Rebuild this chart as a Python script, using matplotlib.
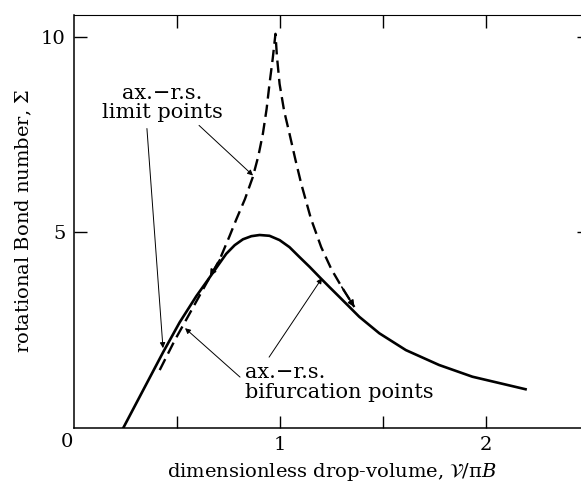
import numpy as np
import matplotlib
matplotlib.use("Agg")
import matplotlib.pyplot as plt

plt.rcParams['font.family'] = ['DejaVu Serif']
plt.rcParams['mathtext.fontset'] = 'dejavuserif'

# bifurcation curve (solid): drop volume vs rotational Bond number
bif_vol = [0.239, 0.336, 0.432, 0.513, 0.594, 0.659, 0.700, 0.739, 0.780, 0.820,
           0.861, 0.901, 0.949, 0.998, 1.046, 1.094, 1.143, 1.191, 1.240, 1.288,
           1.385, 1.482, 1.611, 1.772, 1.934, 2.192]
bif_sigma = [0.0, 0.97, 1.93, 2.70, 3.37, 3.85, 4.16, 4.45, 4.67, 4.82,
             4.90, 4.93, 4.91, 4.80, 4.62, 4.37, 4.12, 3.86, 3.60, 3.35,
             2.84, 2.42, 1.99, 1.61, 1.31, 0.99]

# limit-point curve (dashed), cusp near V/piB = 1
lim_vol = [0.416, 0.489, 0.562, 0.642, 0.707, 0.755, 0.788, 0.830, 0.868, 0.895,
           0.917, 0.935, 0.949, 0.965, 0.978, 0.985, 0.998, 1.020, 1.046, 1.075,
           1.103, 1.150, 1.200, 1.250, 1.300, 1.361]
lim_sigma = [1.48, 2.24, 2.93, 3.69, 4.30, 4.90, 5.33, 5.85, 6.41, 6.95,
             7.52, 8.15, 8.79, 9.45, 10.07, 9.50, 8.79, 8.10, 7.52, 6.85,
             6.24, 5.35, 4.62, 4.05, 3.60, 3.09]

fig = plt.figure(figsize=(5.81, 4.83), dpi=100)
ax = fig.add_axes([74/581, 55/483, 515/581, 413/483])

ax.plot(bif_vol, bif_sigma, color='black', lw=1.9, solid_joinstyle='round')
ax.plot(lim_vol, lim_sigma, color='black', lw=1.7, dashes=(5.2, 2.6))

# little heads where the dashed curve runs onto the solid one
head = dict(arrowstyle='-|>', color='black', lw=1.2, mutation_scale=9, shrinkA=0, shrinkB=0)
ax.annotate('', xy=(0.660, 3.88), xytext=(0.707, 4.30), arrowprops=head)
ax.annotate('', xy=(1.361, 3.09), xytext=(1.300, 3.60), arrowprops=head)

thin = dict(arrowstyle='-|>', color='black', lw=0.7, mutation_scale=8, shrinkA=0, shrinkB=0)
ax.annotate('', xy=(0.869, 6.45), xytext=(0.607, 7.73), arrowprops=thin)
ax.annotate('', xy=(0.432, 2.04), xytext=(0.354, 7.65), arrowprops=thin)
ax.text(0.43, 8.3, 'ax.\u2212r.s.\nlimit points', ha='center', va='center',
        fontsize=15, linespacing=1.05)

ax.annotate('', xy=(0.539, 2.55), xytext=(0.806, 1.30), arrowprops=thin)
ax.annotate('', xy=(1.204, 3.83), xytext=(0.947, 1.81), arrowprops=thin)
ax.text(0.83, 1.17, 'ax.\u2212r.s.\nbifurcation points', ha='left', va='center',
        fontsize=15, linespacing=1.05)

ax.set_xlim(0, 2.5)
ax.set_ylim(0, 10.55)
ax.set_xticks([0.5, 1, 1.5, 2])
ax.set_xticklabels(['', '1', '', '2'])
ax.set_yticks([5, 10])
ax.set_yticklabels(['5', '10'])
ax.tick_params(direction='in', length=9, width=1.0, labelsize=14,
               top=True, right=True, pad=6)
ax.text(-0.035, -0.36, '0', ha='center', va='center', fontsize=14)

for s in ax.spines.values():
    s.set_linewidth(1.1)
ax.spines['top'].set_linewidth(0.8)

ax.set_xlabel('dimensionless drop-volume, $\\mathcal{V}$/\u03c0$B$', fontsize=14, labelpad=4.5)
ax.set_ylabel('rotational Bond number, $\\mathit{\\Sigma}$', fontsize=14, labelpad=5)

fig.savefig('out.png', dpi=100)
